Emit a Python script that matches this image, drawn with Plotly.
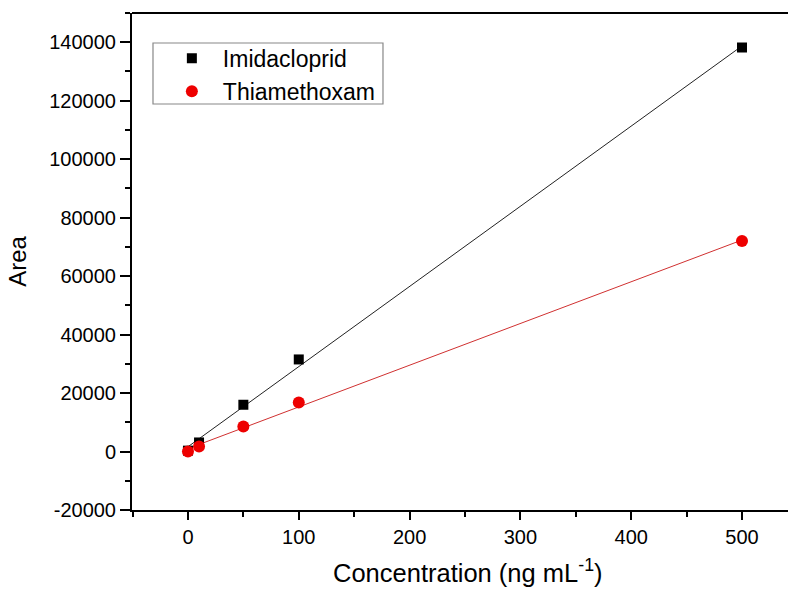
import numpy as np
import plotly.graph_objects as go

conc = [0, 10, 50, 100, 500]
imidacloprid = [300, 3100, 16000, 31500, 138200]
thiamethoxam = [0, 1700, 8600, 16800, 72000]

x_ticks = [0, 100, 200, 300, 400, 500]
y_ticks = [-20000, 0, 20000, 40000, 60000, 80000, 100000, 120000, 140000]
y_tick_text = [str(v) for v in y_ticks]

fig = go.Figure()

fit_x = np.array([min(conc), max(conc)])
for ys, col in [(imidacloprid, "#222222"), (thiamethoxam, "#d03030")]:
    k, b = np.polyfit(conc, ys, 1)
    fig.add_trace(go.Scatter(x=fit_x, y=k * fit_x + b, mode="lines",
                             line=dict(color=col, width=1), showlegend=False,
                             hoverinfo="skip"))

fig.add_trace(go.Scatter(x=conc, y=imidacloprid, mode="markers", name="Imidacloprid",
                         marker=dict(symbol="square", size=10, color="black")))
fig.add_trace(go.Scatter(x=conc, y=thiamethoxam, mode="markers", name="Thiamethoxam",
                         marker=dict(symbol="circle", size=12, color="#ee0000")))

fig.update_layout(
    width=788, height=589,
    margin=dict(l=132, r=0, t=13, b=79),
    paper_bgcolor="white", plot_bgcolor="white",
    font=dict(family="Arial, Liberation Sans, sans-serif", color="black", size=20),
    showlegend=True,
    legend=dict(x=0.044, y=0.952, xanchor="left", yanchor="top",
                borderwidth=0, bgcolor="rgba(0,0,0,0)",
                font=dict(size=23), itemwidth=52, tracegroupgap=0),
    shapes=[
        dict(type="rect", xref="paper", yref="paper", x0=0.032, x1=0.3826,
             y0=0.8169, y1=0.9396, line=dict(color="#888888", width=1.2),
             fillcolor="rgba(0,0,0,0)", layer="below"),
        dict(type="line", xref="paper", yref="paper", x0=0, x1=1, y0=1, y1=1,
             line=dict(color="black", width=2)),
    ],
    annotations=[
        dict(text="Concentration (ng mL<sup>-1</sup>)", xref="paper", yref="paper",
             x=0.512, y=-0.122, xanchor="center", yanchor="middle", showarrow=False,
             font=dict(size=25.5)),
    ],
    xaxis=dict(range=[-50.5, 541.5], tickvals=x_ticks, showgrid=False, zeroline=False,
               showline=True, linecolor="black", linewidth=2, mirror=False,
               ticks="outside", ticklen=8, tickwidth=1.5, tickcolor="black",
               minor=dict(dtick=50, tick0=0, ticks="outside", ticklen=5, tickwidth=1.5,
                          tickcolor="black", showgrid=False)),
    yaxis=dict(range=[-20000, 150000], tickvals=y_ticks, ticktext=y_tick_text,
               showgrid=False, zeroline=False,
               showline=True, linecolor="black", linewidth=2, mirror=False,
               ticks="outside", ticklen=10, tickwidth=1.5, tickcolor="black",
               minor=dict(dtick=10000, tick0=0, ticks="outside", ticklen=5, tickwidth=1.5,
                          tickcolor="black", showgrid=False),
               title=dict(text="Area", font=dict(size=24), standoff=16)),
)

fig.write_html("out.html")
